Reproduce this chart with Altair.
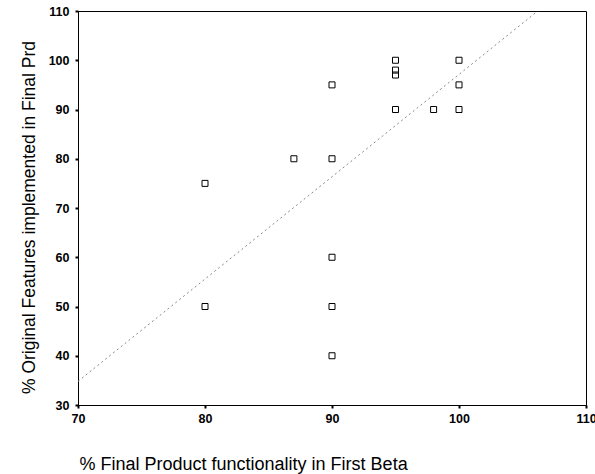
import altair as alt
import pandas as pd

# Scatter data
beta_pct = [80, 80, 87, 90, 90, 90, 90, 90, 95, 95, 95, 95, 98, 100, 100, 100]
final_pct = [75, 50, 80, 95, 80, 60, 50, 40, 100, 98, 97, 90, 90, 100, 95, 90]

# Fit line end points
fit_x = [70, 106.2]
fit_y = [34.8, 110]

x_ticks = [70, 80, 90, 100, 110]
y_ticks = [30, 40, 50, 60, 70, 80, 90, 100, 110]

pts = pd.DataFrame({"x": beta_pct, "y": final_pct})
fit = pd.DataFrame({"x": fit_x, "y": fit_y})

xscale = alt.Scale(domain=[70, 110], nice=False, zero=False)
yscale = alt.Scale(domain=[30, 110], nice=False, zero=False)

xaxis = alt.Axis(
    title="% Final Product functionality in First Beta",
    values=x_ticks, grid=False, tickSize=3, tickWidth=2, tickColor="black",
    domainColor="black", labelFont="Liberation Sans", labelFontWeight="bold",
    labelFontSize=12.5, labelColor="black", labelPadding=4,
    labelFlush=False, labelOverlap=False, labelBound=False,
    titleFont="Liberation Sans", titleFontSize=18, titleFontWeight="normal",
    titleColor="black", titleAnchor="start", titleAlign="left",
    titleX=1, titleY=64, titleBaseline="alphabetic",
)
yaxis = alt.Axis(
    title="% Original Features implemented in Final Prd",
    values=y_ticks, grid=False, tickSize=3, tickWidth=2, tickColor="black",
    domainColor="black", labelFont="Liberation Sans", labelFontWeight="bold",
    labelFontSize=12.5, labelColor="black", labelPadding=6,
    labelFlush=False, labelOverlap=False,
    titleFont="Liberation Sans", titleFontSize=17.5, titleFontWeight="normal",
    titleColor="black", titleAngle=-90, titleAlign="center",
    titleX=-44, titleY=206, titleBaseline="alphabetic",
)

line = alt.Chart(fit).mark_line(
    color="#888888", strokeWidth=1, strokeDash=[2, 3], clip=True
).encode(
    x=alt.X("x:Q", scale=xscale, axis=xaxis),
    y=alt.Y("y:Q", scale=yscale, axis=yaxis),
)

points = alt.Chart(pts).mark_point(
    shape="square", size=36, filled=False, color="black", strokeWidth=1, opacity=1
).encode(
    x=alt.X("x:Q", scale=xscale),
    y=alt.Y("y:Q", scale=yscale),
)

chart = alt.layer(line, points).properties(
    width=508, height=394,
    autosize=alt.AutoSizeParams(type="none"),
    padding={"left": 78, "top": 11, "right": 9, "bottom": 69},
    background="white",
).configure_view(stroke="black", strokeWidth=1)

chart.save("out.html", embed_options={"renderer": "svg", "actions": False})
